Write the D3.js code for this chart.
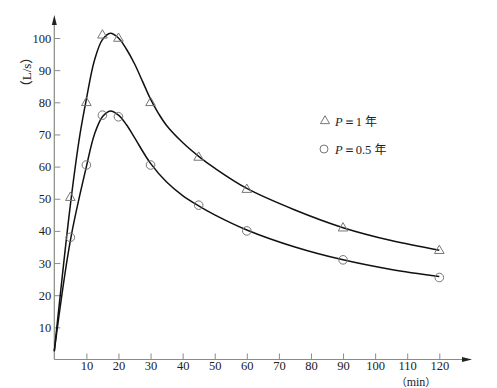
<!DOCTYPE html>
<html><head><meta charset="utf-8">
<script src="https://cdn.jsdelivr.net/npm/d3@7/dist/d3.min.js"></script>
<style>body{margin:0;background:#fff}svg{display:block}</style>
</head><body>
<script>
// Data
const xTicks = [10,20,30,40,50,60,70,80,90,100,110,120];
const yTicks = [10,20,30,40,50,60,70,80,90,100];
const sampleT = [5,10,15,20,30,45,60,90,120];
const p1Points = [50.5,80,101,100,80,63,53,41,34];
const p05Points = [38,60.5,76,75.5,60.5,48,40,31,25.5];
// fitted curves
const curveT1 = [0,5,8,10,12.5,15,17.5,20,22.5,25,27.5,30,32.5,35,40,45,50,60,75,90,105,120];
const curveV1 = [2.5,48,70,81,93,99.5,101.5,100,96.5,92,86.5,81,76.5,72.8,67.5,63.2,59.5,53.2,46.5,41,37,34];
const curveT05 = [0,5,10,12.5,15,17.5,20,22.5,25,30,35,40,45,50,60,75,90,105,120];
const curveV05 = [2.7,37,60,70,75.5,77.3,76,73,69,61,55.2,51,47.8,45,40.3,35,31,28,25.8];
const legendLabels = ["1", "0.5"];

const W = 497, H = 388;
const svg = d3.select("body").append("svg").attr("width", W).attr("height", H);
const x = d3.scaleLinear().domain([0,120]).range([54.3,439.3]);
const y = d3.scaleLinear().domain([0,100]).range([359.5,38]);
const axisColor = "#8a8a8a", textColor = "#222", font = "'Liberation Serif','DejaVu Serif',serif";
const cjk = "'Noto Sans CJK SC',sans-serif";

// axes lines with arrows
svg.append("line").attr("x1", x(0)).attr("y1", y(0)).attr("x2", 466).attr("y2", y(0))
  .attr("stroke", axisColor).attr("stroke-width", 1.2);
svg.append("path").attr("d", `M472,${y(0)} L462,${y(0)-2.5} L462,${y(0)+2.5} Z`).attr("fill", "#222");
svg.append("line").attr("x1", x(0)).attr("y1", y(0)).attr("x2", x(0)).attr("y2", 22)
  .attr("stroke", axisColor).attr("stroke-width", 1.2);
svg.append("path").attr("d", `M${x(0)},15 L${x(0)-2.5},25 L${x(0)+2.5},25 Z`).attr("fill", "#222");

// ticks using d3 axes
const xAxis = svg.append("g").attr("transform", `translate(0,${y(0)})`)
  .call(d3.axisBottom(x).tickValues(xTicks).tickSizeInner(-6).tickSizeOuter(0).tickPadding(4));
const yAxis = svg.append("g").attr("transform", `translate(${x(0)},0)`)
  .call(d3.axisLeft(y).tickValues(yTicks).tickSizeInner(-6).tickSizeOuter(0).tickPadding(4));
[xAxis, yAxis].forEach(g => {
  g.select(".domain").remove();
  g.selectAll(".tick line").attr("stroke", axisColor).attr("stroke-width", 1);
  g.selectAll(".tick text").attr("fill", textColor).style("font-family", font).style("font-size", "12.5px");
});
yAxis.selectAll(".tick text").attr("x", -3);
xAxis.selectAll(".tick text").attr("dy", "0.55em");

// axis titles
const yl = svg.append("text").attr("transform", `translate(31,72) rotate(-90)`).attr("text-anchor", "middle")
  .attr("fill", textColor).style("font-family", font).style("font-size", "13px");
yl.append("tspan").style("font-family", cjk).text("（");
yl.append("tspan").text("L/s");
yl.append("tspan").style("font-family", cjk).text("）");
const xl = svg.append("text").attr("x", 416).attr("y", 386).attr("text-anchor", "middle")
  .attr("fill", textColor).style("font-family", font).style("font-size", "12px");
xl.append("tspan").style("font-family", cjk).style("font-size","10.5px").text("（");
xl.append("tspan").text("min");
xl.append("tspan").style("font-family", cjk).style("font-size","10.5px").text("）");

// curves
const line = d3.line().x(d => x(d[0])).y(d => y(d[1])).curve(d3.curveCatmullRom.alpha(0.5));
svg.append("path").datum(curveT1.map((t,i)=>[t,curveV1[i]])).attr("d", line)
  .attr("fill","none").attr("stroke","#111").attr("stroke-width",1.5);
svg.append("path").datum(curveT05.map((t,i)=>[t,curveV05[i]])).attr("d", line)
  .attr("fill","none").attr("stroke","#111").attr("stroke-width",1.5);

// markers
const mColor = "#777";
const tri = d3.symbol().type(d3.symbolTriangle).size(40);
svg.selectAll(".tri").data(sampleT.map((t,i)=>[t,p1Points[i]])).join("path")
  .attr("transform", d => `translate(${x(d[0])},${y(d[1])+0.5})`).attr("d", tri)
  .attr("fill","none").attr("stroke",mColor).attr("stroke-width",1);
svg.selectAll(".cir").data(sampleT.map((t,i)=>[t,p05Points[i]])).join("circle")
  .attr("cx", d => x(d[0])).attr("cy", d => y(d[1])).attr("r", 4.3)
  .attr("fill","none").attr("stroke",mColor).attr("stroke-width",1);

// legend
const lg = svg.append("g");
lg.append("path").attr("transform","translate(325,121)").attr("d", d3.symbol().type(d3.symbolTriangle).size(36))
  .attr("fill","none").attr("stroke",mColor);
lg.append("circle").attr("cx",324).attr("cy",149).attr("r",4).attr("fill","none").attr("stroke",mColor);
[[126, legendLabels[0]],[154, legendLabels[1]]].forEach(([yy, v]) => {
  const t = lg.append("text").attr("x", 335).attr("y", yy).attr("fill", textColor)
    .style("font-family", font).style("font-size", "12.5px");
  t.append("tspan").style("font-style","italic").text("P");
  t.append("tspan").text("＝" + v + " ");
  t.append("tspan").style("font-family", cjk).style("font-size","12px").text("年");
});
</script>
</body></html>
